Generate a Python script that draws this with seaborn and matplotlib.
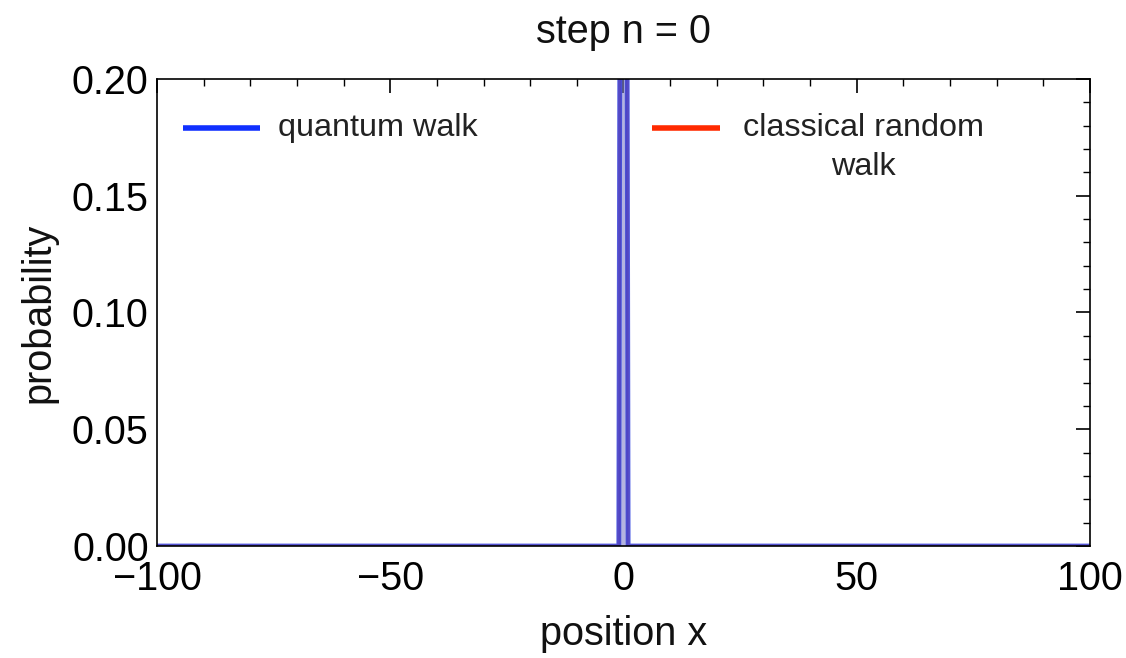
import numpy as np
import pandas as pd
import matplotlib
matplotlib.use("Agg")
import matplotlib.pyplot as plt
from matplotlib.ticker import MultipleLocator
import seaborn as sns

# ---- data ----
positions = np.arange(-100, 101)
quantum_prob = np.where(positions == 0, 1.0, 0.0)
classical_prob = np.where(positions == 0, 1.0, 0.0)
title_text = "step n = 0"
x_ticks = [-100, -50, 0, 50, 100]
y_ticks = [0.00, 0.05, 0.10, 0.15, 0.20]

df = pd.DataFrame({"x": positions, "quantum": quantum_prob, "classical": classical_prob})

sns.set_theme(style="white")
plt.rcParams['font.family'] = ['Liberation Sans', 'DejaVu Sans']
plt.rcParams['axes.unicode_minus'] = True

fig = plt.figure(figsize=(11.26, 6.58), dpi=100)
ax = fig.add_axes([0.1394, 0.1702, 0.8286, 0.7098])

blue = "#1030ff"
red = "#ff2a00"

sns.lineplot(data=df, x="x", y="classical", ax=ax, color=red, lw=2.5, alpha=0.6)
ax.fill_between(df["x"], df["classical"], color=red, alpha=0.15, lw=0)
sns.lineplot(data=df, x="x", y="quantum", ax=ax, color="#2a3ee0", lw=3.5, alpha=0.8)
ax.fill_between(df["x"], df["quantum"], color="#6a8ae8", alpha=0.5, lw=0)

ax.set_xlim(-100, 100)
ax.set_ylim(0, 0.2)
ax.set_xticks(x_ticks)
ax.set_yticks(y_ticks)
ax.set_yticklabels([f"{v:.2f}" for v in y_ticks])
ax.xaxis.set_minor_locator(MultipleLocator(10))
ax.yaxis.set_minor_locator(MultipleLocator(0.01))
ax.tick_params(which="both", direction="in", top=True, right=True, color="black",
               labelsize=28.5, labelcolor="black")
ax.tick_params(which="major", length=10, width=1.2)
ax.tick_params(which="minor", length=5, width=1.0)
ax.tick_params(axis="x", which="major", pad=10)
ax.tick_params(axis="y", which="major", pad=6)
for s in ax.spines.values():
    s.set_color("black")
    s.set_linewidth(1.2)

ax.set_xlabel("position x", fontsize=28.5, color="#111111", labelpad=12)
ax.set_ylabel("probability", fontsize=28.5, color="#111111", labelpad=10)
ax.set_title(title_text, fontsize=28.5, color="#111111", pad=26)

# legend drawn in axes coordinates
ax.plot([0.028, 0.110], [0.895, 0.895], transform=ax.transAxes, color=blue, lw=4, solid_capstyle="butt")
ax.text(0.130, 0.895, "quantum walk", transform=ax.transAxes, fontsize=23.3,
        color="#222222", va="center", ha="left")
ax.plot([0.531, 0.604], [0.895, 0.895], transform=ax.transAxes, color=red, lw=4, solid_capstyle="butt")
ax.text(0.757, 0.895, "classical random", transform=ax.transAxes, fontsize=23.3,
        color="#222222", va="center", ha="center")
ax.text(0.757, 0.812, "walk", transform=ax.transAxes, fontsize=23.3,
        color="#222222", va="center", ha="center")

fig.savefig("out.png", dpi=100)
